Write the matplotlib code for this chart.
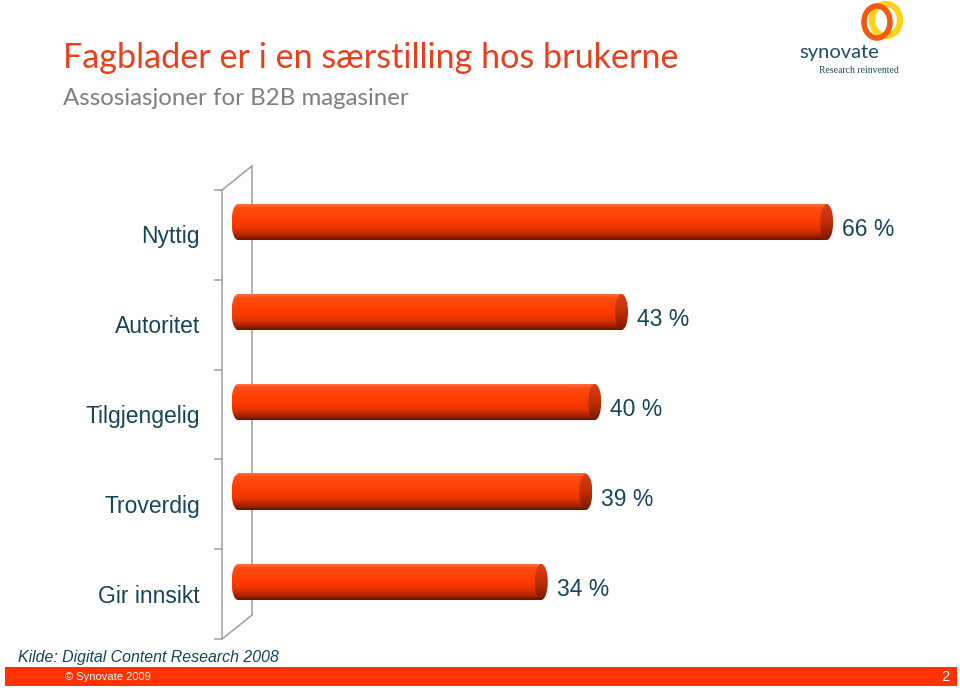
import numpy as np
import matplotlib.pyplot as plt
from matplotlib.patches import Ellipse, Rectangle
from matplotlib.colors import LinearSegmentedColormap

categories = ["Nyttig", "Autoritet", "Tilgjengelig", "Troverdig", "Gir innsikt"]
values = [66, 43, 40, 39, 34]
value_labels = ["66 %", "43 %", "40 %", "39 %", "34 %"]

title = "Fagblader er i en særstilling hos brukerne"
subtitle = "Assosiasjoner for B2B magasiner"
source = "Kilde: Digital Content Research 2008"
copyright_text = "© Synovate 2009"
page = "2"

W, H = 960, 688
fig = plt.figure(figsize=(W / 100, H / 100), dpi=100)
fig.patch.set_facecolor("white")


def fx(x):
    return x / W


def fy(y):
    return 1 - y / H


txt = "#17455a"
red = "#e8401c"

# bar axes: 8.92 px per percent (zero at x=238 px), 90 px per category
ppx = 8.92
x0 = 238
left_px = 200
ax = fig.add_axes([fx(left_px), fy(627), fx(W - left_px), 450 / H])
bar_h = 0.4
cap_w = 13 / ppx

body = LinearSegmentedColormap.from_list("body", [
    (0.0, "#ff7040"), (0.10, "#ff4c14"), (0.45, "#ff3d00"),
    (0.70, "#e83400"), (0.88, "#a82300"), (1.0, "#6a1400")])
capcm = LinearSegmentedColormap.from_list("cap", [
    (0.0, "#d84018"), (0.5, "#c02e06"), (1.0, "#7a1800")])
grad = np.linspace(0, 1, 100).reshape(-1, 1)

for i, v in enumerate(values):
    # left rounded end
    el = Ellipse((0, i), cap_w, bar_h, facecolor="none", edgecolor="none")
    ax.add_patch(el)
    im = ax.imshow(grad, cmap=body, aspect="auto", origin="upper",
                   extent=(-cap_w / 2, cap_w / 2, i + bar_h / 2, i - bar_h / 2), zorder=3)
    im.set_clip_path(el)
    # body
    ax.imshow(grad, cmap=body, aspect="auto", origin="upper",
              extent=(0, v, i + bar_h / 2, i - bar_h / 2), zorder=3)
    # right end cap
    er = Ellipse((v, i), cap_w, bar_h, facecolor="none", edgecolor="none")
    ax.add_patch(er)
    im2 = ax.imshow(grad, cmap=capcm, aspect="auto", origin="upper",
                    extent=(v - cap_w / 2, v + cap_w / 2, i + bar_h / 2, i - bar_h / 2), zorder=4)
    im2.set_clip_path(er)

    ax.text(-38 / ppx, i + 0.16, categories[i], ha="right", va="center",
            fontsize=16.5, color=txt, family="Liberation Sans", clip_on=False)
    ax.text(v + cap_w / 2 + 9 / ppx, i + 0.08, value_labels[i], ha="left", va="center",
            fontsize=16.5, color=txt, family="Liberation Sans")

# 3D wall (front / back lines, depth offset)
dx, dy = -30 / ppx, 24 / 90
bx = 14 / ppx
top, bot = -0.622, 4.367
wall = "#a4a4ac"
ax.plot([bx, bx], [top, bot], color=wall, lw=1.2, zorder=1, clip_on=False)
ax.plot([bx + dx, bx + dx], [top + dy, bot + dy], color=wall, lw=1.2, zorder=1, clip_on=False)
ax.plot([bx + dx, bx], [top + dy, top], color=wall, lw=1.2, zorder=1, clip_on=False)
ax.plot([bx + dx, bx], [bot + dy, bot], color=wall, lw=1.2, zorder=1, clip_on=False)
for t in np.linspace(top + dy, bot + dy, len(categories) + 1):
    ax.plot([bx + dx - 7 / ppx, bx + dx], [t, t], color=wall, lw=1.2, clip_on=False)

ax.set_xlim(-(x0 - left_px) / ppx, (W - x0) / ppx)
ax.set_ylim(len(categories) - 0.5, -0.5)
ax.axis("off")

# titles
fig.text(fx(63), fy(68), title, color=red, fontsize=24.6, family="Lato", va="baseline")
fig.text(fx(63), fy(105), subtitle, color="#7f7f7f", fontsize=17.3, family="Lato", va="baseline")

# source + footer
fig.text(fx(18), fy(662), source, color=txt, fontsize=11.4, style="italic",
         family="Liberation Sans", va="baseline")
fig.patches.append(Rectangle((fx(5), fy(686)), fx(952), 19 / H, transform=fig.transFigure,
                             facecolor="#ff3300", edgecolor="none"))
fig.text(fx(65), fy(677), copyright_text, color="white", fontsize=8,
         family="Liberation Sans", va="center")
fig.text(fx(945), fy(677), page, color="white", fontsize=10.5,
         family="Liberation Sans", va="center", ha="center")

# logo
fig.patches.append(Ellipse((fx(886), fy(20)), 28 / W, 32 / H, transform=fig.transFigure,
                           facecolor="none", edgecolor="#ffd21a", lw=4.5))
fig.patches.append(Ellipse((fx(877), fy(22)), 26 / W, 32 / H, transform=fig.transFigure,
                           facecolor="none", edgecolor="#f05a10", lw=4))
fig.text(fx(799), fy(58), "synovate", color="#1e4e64", fontsize=14.5, family="Lato",
         va="baseline")
fig.text(fx(819), fy(73), "Research reinvented", color="#1e4e64", fontsize=7,
         family="Liberation Serif", va="baseline")

fig.savefig("out.png", dpi=100)
